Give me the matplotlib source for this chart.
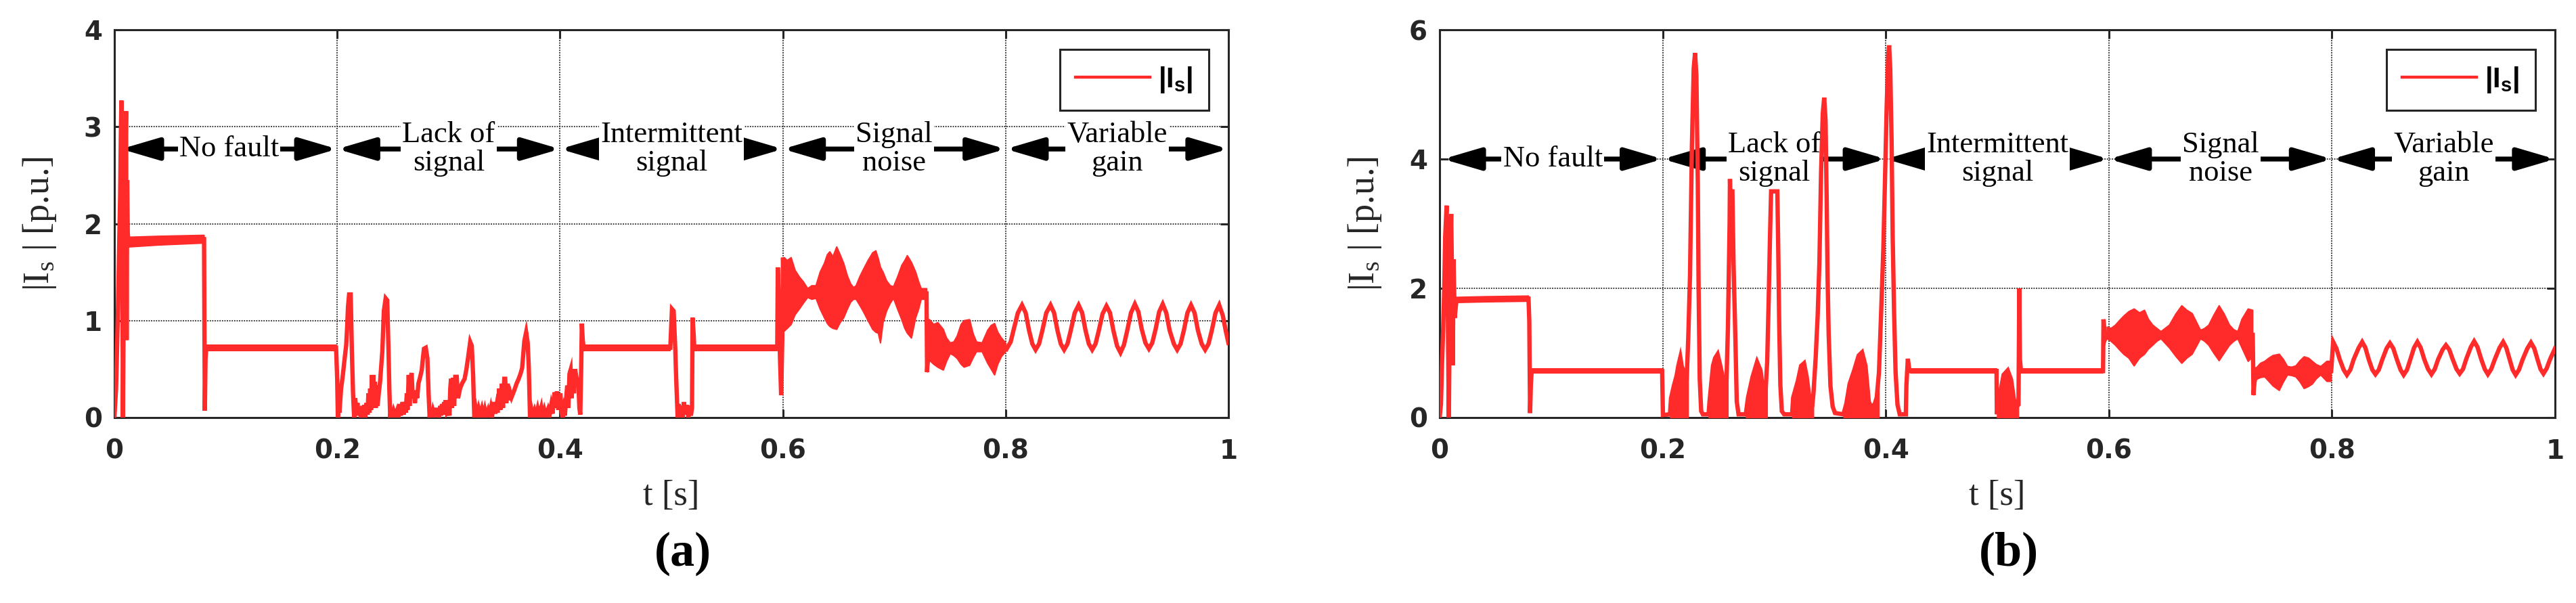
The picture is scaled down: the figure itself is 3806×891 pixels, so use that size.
import numpy as np
import matplotlib
matplotlib.use('Agg')
import matplotlib.pyplot as plt
from matplotlib.patches import ArrowStyle

RED = '#ff2a2a'
DARK = '#262626'
nan = np.nan

# ---------------- axis ticks ----------------
x_ticks = [0, 0.2, 0.4, 0.6, 0.8, 1.0]
x_ticklabels = ['0', '0.2', '0.4', '0.6', '0.8', '1']
a_yticks = [0, 1, 2, 3, 4]
b_yticks = [0, 2, 4, 6]

# ---------------- region annotations ----------------
region_labels = ['No fault', 'Lack of\nsignal', 'Intermittent\nsignal', 'Signal\nnoise', 'Variable\ngain']
a_region_spans = [(0.006, 0.2), (0.2, 0.4), (0.4, 0.6), (0.6, 0.8), (0.8, 1.0)]
b_region_spans = [(0.003, 0.2), (0.2, 0.4), (0.4, 0.6), (0.6, 0.8), (0.8, 1.0)]
a_region_y = 2.77
b_region_y = 4.0

# ================= panel (a) data =================
a_start_t = [0.0, 0.0015, 0.0030, 0.0042, 0.0052, 0.0058, 0.0063, 0.0068, 0.0073, 0.0077, 0.0082, 0.0088,
             0.0093, 0.0099, 0.0105, 0.0110, 0.0115, 0.0120, 0.0128, 0.0400, 0.0805, 0.0808, 0.0812, 0.0818,
             0.0825, 0.1990]
a_start_i = [0.0, 0.30, 1.00, 1.70, 2.30, 2.90, 3.27, 2.50, 1.20, 0.00, 0.90, 2.40,
             1.20, 2.60, 3.16, 0.80, 2.45, 1.90, 1.80, 1.82, 1.84, 1.00, 0.07, 0.60,
             0.72, 0.72]

a_lack_t = [0.2000, 0.2006, 0.2015, 0.2020, 0.2035, 0.2051, 0.2066, 0.2081, 0.2090, 0.2097, 0.2107, 0.2121,
            0.2127, 0.2132, 0.2142, 0.2152, 0.2162, 0.2172, 0.2182, 0.2192, 0.2205, 0.2213, 0.2225, 0.2235,
            0.2243, 0.2252, 0.2262, 0.2273, 0.2280, 0.2290, 0.2296, 0.2304, 0.2312, 0.2318, 0.2324, 0.2330,
            0.2338, 0.2346, 0.2354, 0.2362, 0.2374, 0.2385, 0.2405, 0.2419, 0.2435, 0.2449, 0.2455, 0.2461,
            0.2468, 0.2476, 0.2485, 0.2495, 0.2506, 0.2520, 0.2536, 0.2550, 0.2560, 0.2570, 0.2587, 0.2596,
            0.2607, 0.2615, 0.2625, 0.2632, 0.2642, 0.2650, 0.2660, 0.2668, 0.2678, 0.2688, 0.2698, 0.2708,
            0.2718, 0.2729, 0.2745, 0.2759, 0.2770, 0.2779, 0.2795, 0.2810, 0.2820, 0.2830, 0.2840, 0.2850,
            0.2860, 0.2872, 0.2885, 0.2893, 0.2901, 0.2912, 0.2925, 0.2933, 0.2941, 0.2950, 0.2960, 0.2966,
            0.2972, 0.2985, 0.2998, 0.3008, 0.3015, 0.3022, 0.3030, 0.3040, 0.3050, 0.3060, 0.3073, 0.3085,
            0.3103, 0.3120, 0.3144, 0.3160, 0.3174, 0.3194, 0.3208, 0.3220, 0.3231, 0.3245, 0.3255, 0.3270,
            0.3285, 0.3300, 0.3315, 0.3326, 0.3340, 0.3355, 0.3366, 0.3380, 0.3392, 0.3407, 0.3418, 0.3430,
            0.3440, 0.3455, 0.3465, 0.3478, 0.3488, 0.3500, 0.3508, 0.3518, 0.3530, 0.3540, 0.3555, 0.3565,
            0.3589, 0.3610, 0.3629, 0.3645, 0.3660, 0.3670, 0.3680, 0.3696, 0.3710, 0.3720, 0.3731, 0.3745,
            0.3755, 0.3771, 0.3785, 0.3800, 0.3815, 0.3832, 0.3845, 0.3860, 0.3875, 0.3892, 0.3905, 0.3920,
            0.3933, 0.3945, 0.3953, 0.3963, 0.3973, 0.3985, 0.3995, 0.4004, 0.4014, 0.4024, 0.4034, 0.4044,
            0.4055, 0.4065, 0.4075, 0.4085, 0.4095, 0.4105, 0.4115, 0.4125, 0.4135, 0.4150, 0.4166, 0.4174,
            0.4182, 0.4190, 0.4196, 0.4204, 0.4212]
a_lack_i = [0.40, 0.00, 0.15, 0.05, 0.30, 0.44, 0.60, 0.75, 0.95, 1.14, 1.27, 1.27,
            0.95, 0.68, 0.26, 0.00, 0.20, 0.05, 0.15, 0.02, 0.10, 0.00, 0.12, 0.02,
            0.13, 0.00, 0.15, 0.03, 0.25, 0.05, 0.30, 0.08, 0.44, 0.10, 0.44, 0.15,
            0.37, 0.10, 0.33, 0.12, 0.26, 0.37, 0.68, 1.10, 1.23, 1.21, 0.95, 0.68,
            0.30, 0.00, 0.10, 0.02, 0.07, 0.02, 0.07, 0.00, 0.14, 0.02, 0.16, 0.03,
            0.16, 0.05, 0.25, 0.08, 0.44, 0.12, 0.40, 0.46, 0.20, 0.26, 0.15, 0.28,
            0.20, 0.35, 0.42, 0.49, 0.62, 0.71, 0.72, 0.61, 0.26, 0.00, 0.08, 0.01,
            0.07, 0.02, 0.10, 0.02, 0.09, 0.00, 0.12, 0.02, 0.14, 0.03, 0.16, 0.04,
            0.18, 0.05, 0.07, 0.02, 0.30, 0.40, 0.10, 0.41, 0.12, 0.42, 0.42, 0.20,
            0.30, 0.35, 0.40, 0.50, 0.61, 0.78, 0.74, 0.44, 0.00, 0.08, 0.01, 0.09,
            0.02, 0.09, 0.02, 0.08, 0.01, 0.07, 0.02, 0.10, 0.03, 0.16, 0.04, 0.12,
            0.05, 0.30, 0.08, 0.35, 0.10, 0.40, 0.40, 0.15, 0.35, 0.18, 0.25, 0.21,
            0.28, 0.35, 0.40, 0.45, 0.51, 0.65, 0.79, 0.88, 0.77, 0.51, 0.00, 0.07,
            0.01, 0.07, 0.01, 0.09, 0.02, 0.10, 0.01, 0.08, 0.02, 0.08, 0.02, 0.12,
            0.04, 0.20, 0.26, 0.10, 0.27, 0.08, 0.23, 0.23, 0.05, 0.00, 0.08, 0.02,
            0.20, 0.33, 0.10, 0.45, 0.49, 0.20, 0.50, 0.25, 0.50, 0.40, 0.33, 0.10,
            0.03, 0.50, 0.97, 0.80, 0.72]

a_inter_t = [0.4990, 0.4996, 0.5005, 0.5020, 0.5035, 0.5043, 0.5056, 0.5065, 0.5075, 0.5090, 0.5100, 0.5112,
             0.5125, 0.5140, 0.5152, 0.5165, 0.5175, 0.5185, 0.5190, 0.5200, 0.5205, 0.5950, 0.5955, 0.5963,
             0.5975, 0.5985, 0.5995, 0.6002]
a_inter_i = [0.72, 0.87, 1.12, 1.10, 0.70, 0.40, 0.00, 0.14, 0.02, 0.12, 0.00, 0.16,
             0.03, 0.13, 0.00, 0.12, 0.02, 0.10, 1.03, 0.85, 0.72, 0.72, 1.55, 1.20,
             0.60, 0.23, 0.80, 1.65]

a_noise_t = [0.6010, 0.7290, 0.7295, 0.7305, 0.7990]
a_noise_i = [1.28, 1.28, 0.47, 0.73, 0.73]

a_gain_t = [0.8010, 0.8045, 0.8075, 0.8110, 0.8147, 0.8180, 0.8210, 0.8240, 0.8269, 0.8300, 0.8330, 0.8365,
            0.8403, 0.8435, 0.8465, 0.8495, 0.8525, 0.8555, 0.8585, 0.8620, 0.8655, 0.8687, 0.8717, 0.8747,
            0.8777, 0.8807, 0.8837, 0.8870, 0.8905, 0.8937, 0.8967, 0.9000, 0.9031, 0.9062, 0.9092, 0.9125,
            0.9160, 0.9192, 0.9222, 0.9255, 0.9286, 0.9316, 0.9346, 0.9378, 0.9410, 0.9442, 0.9472, 0.9510,
            0.9540, 0.9570, 0.9600, 0.9632, 0.9664, 0.9696, 0.9726, 0.9760, 0.9791, 0.9821, 0.9851, 0.9884,
            0.9917, 0.9950, 0.9975, 1.0000]
a_gain_i = [0.71, 0.78, 0.92, 1.08, 1.16, 1.08, 0.90, 0.76, 0.70, 0.76, 0.90, 1.08,
            1.16, 1.08, 0.90, 0.76, 0.70, 0.76, 0.90, 1.08, 1.16, 1.08, 0.90, 0.76,
            0.70, 0.76, 0.90, 1.07, 1.15, 1.08, 0.90, 0.74, 0.67, 0.75, 0.90, 1.08,
            1.17, 1.09, 0.91, 0.77, 0.71, 0.77, 0.91, 1.09, 1.17, 1.08, 0.90, 0.76,
            0.70, 0.76, 0.90, 1.08, 1.16, 1.08, 0.90, 0.76, 0.70, 0.76, 0.90, 1.08,
            1.16, 1.05, 0.90, 0.77]

# envelopes of ripple / dense noise (NaN separates pieces)
a_band_t = [0.0128, 0.0400, 0.0805, nan,
            0.0825, 0.1990, nan,
            0.4212, 0.4990, nan,
            0.5205, 0.5950, nan,
            0.6012, 0.6040, 0.6075, 0.6110, 0.6149, 0.6185, 0.6224, 0.6260, 0.6298, 0.6335, 0.6373, 0.6400,
            0.6422, 0.6450, 0.6484, 0.6515, 0.6547, 0.6580, 0.6609, 0.6635, 0.6658, 0.6690, 0.6720, 0.6765,
            0.6807, 0.6835, 0.6857, 0.6877, 0.6900, 0.6932, 0.6965, 0.6994, 0.7030, 0.7068, 0.7095, 0.7118,
            0.7155, 0.7193, 0.7220, 0.7242, 0.7292, nan,
            0.7300, 0.7317, 0.7355, 0.7391, 0.7441, 0.7470, 0.7503, 0.7535, 0.7565, 0.7600, 0.7627, 0.7677,
            0.7710, 0.7739, 0.7789, 0.7839, 0.7870, 0.7901, 0.7930, 0.7963, 0.8000]
a_band_hi = [1.86, 1.87, 1.88, nan,
             0.75, 0.75, nan,
             0.75, 0.75, nan,
             0.75, 0.75, nan,
             1.65, 1.62, 1.65, 1.52, 1.45, 1.40, 1.33, 1.36, 1.36, 1.50, 1.59, 1.68,
             1.71, 1.66, 1.76, 1.68, 1.59, 1.46, 1.38, 1.34, 1.36, 1.45, 1.52, 1.62,
             1.70, 1.72, 1.64, 1.55, 1.50, 1.41, 1.36, 1.35, 1.45, 1.57, 1.62, 1.67,
             1.60, 1.50, 1.40, 1.33, 1.33, nan,
             1.01, 1.01, 0.96, 0.98, 0.91, 0.82, 0.77, 0.78, 0.84, 0.96, 1.00, 1.01,
             0.86, 0.78, 0.77, 0.90, 0.95, 0.97, 0.88, 0.82, 0.77]
a_band_lo = [1.76, 1.78, 1.80, nan,
             0.69, 0.69, nan,
             0.69, 0.69, nan,
             0.69, 0.69, nan,
             0.89, 0.92, 0.96, 1.06, 1.12, 1.18, 1.24, 1.22, 1.23, 1.12, 1.03, 0.97,
             0.94, 0.92, 0.91, 0.98, 1.03, 1.12, 1.19, 1.22, 1.22, 1.16, 1.10, 1.00,
             0.91, 0.88, 0.87, 0.77, 0.98, 1.10, 1.18, 1.23, 1.12, 1.01, 0.92, 0.87,
             0.82, 1.03, 1.12, 1.22, 1.22, nan,
             0.47, 0.59, 0.55, 0.52, 0.49, 0.58, 0.66, 0.64, 0.61, 0.55, 0.52, 0.54,
             0.62, 0.68, 0.68, 0.56, 0.50, 0.44, 0.55, 0.63, 0.68]

# ================= panel (b) data =================
b_start_t = [0.0, 0.0012, 0.0022, 0.0032, 0.0042, 0.0050, 0.0063, 0.0070, 0.0077, 0.0083, 0.0090, 0.0097,
             0.0104, 0.0112, 0.0118, 0.0125, 0.0135, 0.0150, 0.0160, 0.0400, 0.0797, 0.0804, 0.0811, 0.0818,
             0.0825, 0.1995]
b_start_i = [0.0, 0.21, 0.84, 1.37, 2.03, 2.80, 3.28, 2.40, 1.00, 0.00, 1.50, 2.60,
             3.15, 2.00, 0.81, 2.45, 1.54, 1.80, 1.82, 1.83, 1.84, 1.50, 0.07, 0.50,
             0.72, 0.72]

b_lack_t = [0.2002, 0.2065, 0.2075, 0.2100, 0.2125, 0.2140, 0.2158, 0.2170, 0.2180, 0.2198, 0.2215, 0.2229,
            0.2245, 0.2262, 0.2278, 0.2290, 0.2302, 0.2315, 0.2322, 0.2332, 0.2345, 0.2360, 0.2411, 0.2420,
            0.2451, 0.2470, 0.2492, 0.2510, 0.2532, 0.2553, 0.2570, 0.2585, 0.2595, 0.2600, 0.2603, 0.2606,
            0.2625, 0.2635, 0.2652, 0.2664, 0.2680, 0.2745, 0.2765, 0.2806, 0.2846, 0.2877, 0.2897, 0.2917,
            0.2937, 0.2950, 0.2962, 0.2972, 0.3028, 0.3036, 0.3045, 0.3055, 0.3068, 0.3089, 0.3160, 0.3170,
            0.3211, 0.3241, 0.3267, 0.3291, 0.3322, 0.3342, 0.3352, 0.3372, 0.3390, 0.3405, 0.3420, 0.3435,
            0.3448, 0.3460, 0.3470, 0.3478, 0.3488, 0.3504, 0.3524, 0.3545, 0.3620, 0.3646, 0.3676, 0.3717,
            0.3757, 0.3787, 0.3818, 0.3848, 0.3868, 0.3899, 0.3919, 0.3939, 0.3950, 0.3962, 0.3978, 0.3992,
            0.4008, 0.4022, 0.4030, 0.4040, 0.4052, 0.4062, 0.4075, 0.4088, 0.4105, 0.4125, 0.4180, 0.4185,
            0.4198, 0.4210, 0.4223]
b_lack_i = [0.04, 0.05, 0.30, 0.49, 0.65, 0.80, 0.93, 0.80, 0.75, 0.55, 0.60, 1.22,
            2.20, 4.20, 5.40, 5.64, 5.30, 3.60, 2.00, 0.60, 0.10, 0.05, 0.05, 0.25,
            0.80, 0.92, 0.98, 0.85, 0.68, 0.38, 0.45, 1.40, 2.50, 3.00, 3.69, 3.50,
            3.50, 2.40, 1.20, 0.25, 0.05, 0.05, 0.31, 0.63, 0.86, 0.73, 0.45, 0.24,
            0.87, 1.80, 2.80, 3.50, 3.50, 2.60, 1.40, 0.50, 0.10, 0.05, 0.05, 0.31,
            0.56, 0.80, 0.84, 0.63, 0.21, 0.20, 0.38, 0.94, 1.60, 2.40, 3.80, 4.70,
            4.95, 4.60, 3.40, 2.20, 1.30, 0.49, 0.17, 0.07, 0.05, 0.21, 0.52, 0.73,
            0.96, 1.01, 0.80, 0.24, 0.17, 0.20, 0.31, 0.70, 1.22, 1.80, 2.60, 3.60,
            4.80, 5.60, 5.76, 5.40, 4.30, 2.80, 1.60, 0.70, 0.20, 0.05, 0.05, 0.50,
            0.91, 0.75, 0.72]
# time windows where the (b) lack-of-signal trace is a dense filled burst
b_burst_ranges = [(0.2065, 0.2229), (0.2411, 0.2585), (0.2745, 0.2937),
                  (0.3160, 0.3352), (0.3620, 0.3939), (0.4996, 0.5190)]

b_inter_t = [0.4993, 0.4996, 0.5019, 0.5056, 0.5093, 0.5123, 0.5149, 0.5175, 0.5190, 0.5197, 0.5203, 0.5212,
             0.5948, 0.5952, 0.5967, 0.5985]
b_inter_i = [0.72, 0.05, 0.31, 0.66, 0.73, 0.59, 0.28, 0.17, 0.20, 2.00, 0.90, 0.72,
             0.72, 1.52, 1.22, 1.30]

b_noise_t = [0.5995, 0.7290, 0.7297, 0.7310, 0.7993]
b_noise_i = [1.30, 1.28, 0.35, 0.70, 0.72]

b_gain_t = [0.8011, 0.8040, 0.8070, 0.8105, 0.8134, 0.8165, 0.8195, 0.8240, 0.8271, 0.8300, 0.8330, 0.8362,
            0.8390, 0.8420, 0.8452, 0.8490, 0.8520, 0.8550, 0.8582, 0.8615, 0.8643, 0.8673, 0.8703, 0.8736,
            0.8766, 0.8796, 0.8828, 0.8862, 0.8892, 0.8922, 0.8952, 0.8992, 0.9022, 0.9052, 0.9083, 0.9117,
            0.9145, 0.9175, 0.9205, 0.9245, 0.9275, 0.9305, 0.9337, 0.9370, 0.9398, 0.9428, 0.9460, 0.9503,
            0.9535, 0.9563, 0.9593, 0.9620, 0.9647, 0.9677, 0.9710, 0.9752, 0.9784, 0.9814, 0.9843, 0.9870,
            0.9896, 0.9925, 0.9955, 1.0000]
b_gain_i = [1.17, 1.07, 0.90, 0.74, 0.66, 0.74, 0.90, 1.08, 1.17, 1.08, 0.90, 0.74,
            0.67, 0.74, 0.90, 1.07, 1.15, 1.07, 0.90, 0.74, 0.66, 0.74, 0.90, 1.08,
            1.17, 1.08, 0.90, 0.75, 0.67, 0.75, 0.90, 1.05, 1.12, 1.05, 0.90, 0.75,
            0.68, 0.75, 0.91, 1.09, 1.18, 1.09, 0.91, 0.75, 0.67, 0.75, 0.90, 1.08,
            1.17, 1.08, 0.90, 0.74, 0.66, 0.74, 0.90, 1.07, 1.16, 1.07, 0.90, 0.75,
            0.68, 0.76, 0.90, 1.07]

b_band_t = [0.0150, 0.0400, 0.0797, nan,
            0.0825, 0.1995, nan,
            0.4223, 0.4993, nan,
            0.5212, 0.5948, nan,
            0.5985, 0.6020, 0.6059, 0.6095, 0.6134, 0.6180, 0.6227, 0.6275, 0.6320, 0.6355, 0.6394, 0.6430,
            0.6468, 0.6505, 0.6543, 0.6600, 0.6654, 0.6700, 0.6747, 0.6785, 0.6822, 0.6860, 0.6896, 0.6940,
            0.6989, 0.7035, 0.7082, 0.7120, 0.7156, 0.7193, 0.7249, 0.7290, nan,
            0.7300, 0.7323, 0.7360, 0.7398, 0.7435, 0.7472, 0.7528, 0.7565, 0.7602, 0.7640, 0.7677, 0.7715,
            0.7751, 0.7790, 0.7825, 0.7860, 0.7900, 0.7955, 0.7993]
b_band_hi = [1.86, 1.87, 1.88, nan,
             0.75, 0.75, nan,
             0.75, 0.75, nan,
             0.75, 0.75, nan,
             1.40, 1.38, 1.43, 1.50, 1.57, 1.64, 1.68, 1.62, 1.66, 1.52, 1.43, 1.38,
             1.33, 1.38, 1.43, 1.60, 1.73, 1.66, 1.61, 1.48, 1.35, 1.38, 1.43, 1.58,
             1.73, 1.60, 1.43, 1.36, 1.33, 1.52, 1.68, 1.66, nan,
             0.77, 0.77, 0.84, 0.87, 0.92, 0.96, 0.98, 0.90, 0.79, 0.78, 0.80, 0.88,
             0.94, 0.92, 0.87, 0.82, 0.79, 0.87, 0.87]
b_band_lo = [1.78, 1.79, 1.80, nan,
             0.69, 0.69, nan,
             0.69, 0.69, nan,
             0.69, 0.69, nan,
             1.22, 1.18, 1.12, 1.05, 0.98, 0.92, 0.80, 0.92, 0.98, 1.06, 1.12, 1.18,
             1.22, 1.15, 1.08, 0.95, 0.84, 0.92, 0.98, 1.10, 1.22, 1.18, 1.12, 1.00,
             0.88, 1.00, 1.12, 1.18, 1.22, 1.08, 0.87, 0.94, nan,
             0.35, 0.59, 0.62, 0.63, 0.56, 0.49, 0.42, 0.55, 0.66, 0.65, 0.63, 0.55,
             0.45, 0.48, 0.52, 0.60, 0.66, 0.56, 0.56]

legend_label = r'|I$_\mathregular{s}$|'
y_label = r'|I$_\mathregular{s}$ | [p.u.]'
x_label = 't [s]'
panel_tags = ['(a)', '(b)']

# ---------------- figure ----------------
plt.rcParams['font.family'] = ['Liberation Sans', 'DejaVu Sans']
plt.rcParams['font.weight'] = 'bold'

W, H = 3806, 891
fig = plt.figure(figsize=(W / 100, H / 100), dpi=100)
ax_a = fig.add_axes([169 / W, (H - 617) / H, 1646 / W, 573 / H])
ax_b = fig.add_axes([2127 / W, (H - 617) / H, 1648 / W, 573 / H])

arrow_style = ArrowStyle('<|-|>', head_length=34, head_width=10)


def style_axes(ax, ymax, yticks):
    ax.set_xlim(0, 1)
    ax.set_ylim(0, ymax)
    ax.set_xticks(x_ticks)
    ax.set_xticklabels(x_ticklabels)
    ax.set_yticks(yticks)
    ax.set_yticklabels([str(v) for v in yticks])
    ax.grid(True, color=DARK, linestyle=(0, (1, 1)), linewidth=1.3)
    ax.set_axisbelow(True)
    for s in ax.spines.values():
        s.set_color(DARK)
        s.set_linewidth(2.2)
    ax.tick_params(direction='in', length=9, width=2.2, color=DARK, top=True, right=True,
                   labelsize=28, labelcolor=DARK, labelfontfamily='DejaVu Sans')
    ax.tick_params(axis='x', pad=22)
    ax.tick_params(axis='y', pad=13)
    for lab in ax.get_xticklabels() + ax.get_yticklabels():
        lab.set_fontweight('bold')


def draw_regions(ax, spans, y):
    for (x0, x1), lab in zip(spans, region_labels):
        ax.annotate('', xy=(x1, y), xytext=(x0, y), xycoords='data', textcoords='data',
                    arrowprops=dict(arrowstyle=arrow_style, mutation_scale=1, lw=5.2, color='black',
                                    shrinkA=0, shrinkB=0), zorder=3)
        ax.text((x0 + x1) / 2, y, lab, ha='center', va='center', fontsize=32, family='Liberation Serif',
                fontweight='normal', color='black', linespacing=1.05, multialignment='center',
                bbox=dict(facecolor='white', edgecolor='none', pad=1.5), zorder=4)


def draw_panel(ax, segs_t, segs_i, band_t, band_hi, band_lo):
    t = np.concatenate([np.asarray(s, float) for s in segs_t])
    v = np.concatenate([np.asarray(s, float) for s in segs_i])
    ax.fill_between(np.asarray(band_t, float), np.asarray(band_lo, float), np.asarray(band_hi, float),
                    color=RED, linewidth=1.5, zorder=5)
    line, = ax.plot(t, v, color=RED, lw=4.6, solid_joinstyle='miter', zorder=5, label=legend_label)
    return t, v, line


# panel (a)
style_axes(ax_a, 4, a_yticks)
draw_regions(ax_a, a_region_spans, a_region_y)
draw_panel(ax_a, [a_start_t, a_lack_t, a_inter_t, a_noise_t, a_gain_t],
           [a_start_i, a_lack_i, a_inter_i, a_noise_i, a_gain_i], a_band_t, a_band_hi, a_band_lo)

# panel (b)
style_axes(ax_b, 6, b_yticks)
draw_regions(ax_b, b_region_spans, b_region_y)
tb, vb, _ = draw_panel(ax_b, [b_start_t, b_lack_t, b_inter_t, b_noise_t, b_gain_t],
                       [b_start_i, b_lack_i, b_inter_i, b_noise_i, b_gain_i], b_band_t, b_band_hi, b_band_lo)
for lo_t, hi_t in b_burst_ranges:
    ax_b.fill_between(tb, 0, vb, where=(tb >= lo_t) & (tb <= hi_t), color=RED, linewidth=0.8, zorder=5)

for ax, tag in zip([ax_a, ax_b], panel_tags):
    leg = ax.legend(loc='upper right', prop={'family': 'Liberation Sans', 'weight': 'bold', 'size': 30},
                    frameon=True, fancybox=False, edgecolor=DARK, framealpha=1, borderaxespad=0.7,
                    handlelength=2.65, handletextpad=0.3, borderpad=0.55)
    leg.get_frame().set_linewidth(2.2)
    leg.get_lines()[0].set_linewidth(3.2)
    leg.set_zorder(10)
    ax.text(-0.067, 0.5, y_label, transform=ax.transAxes, rotation=90, ha='center', va='center',
            fontsize=39, family='Liberation Serif', fontweight='normal', color=DARK)
    ax.text(0.5, -0.2024, x_label, transform=ax.transAxes, ha='center', va='center',
            fontsize=38, family='Liberation Serif', fontweight='normal', color=DARK)
    ax.text(0.51, -0.351, tag, transform=ax.transAxes, ha='center', va='center',
            fontsize=52, family='Liberation Serif', fontweight='bold', color='black')

fig.savefig('out.png', dpi=100, facecolor='white')
